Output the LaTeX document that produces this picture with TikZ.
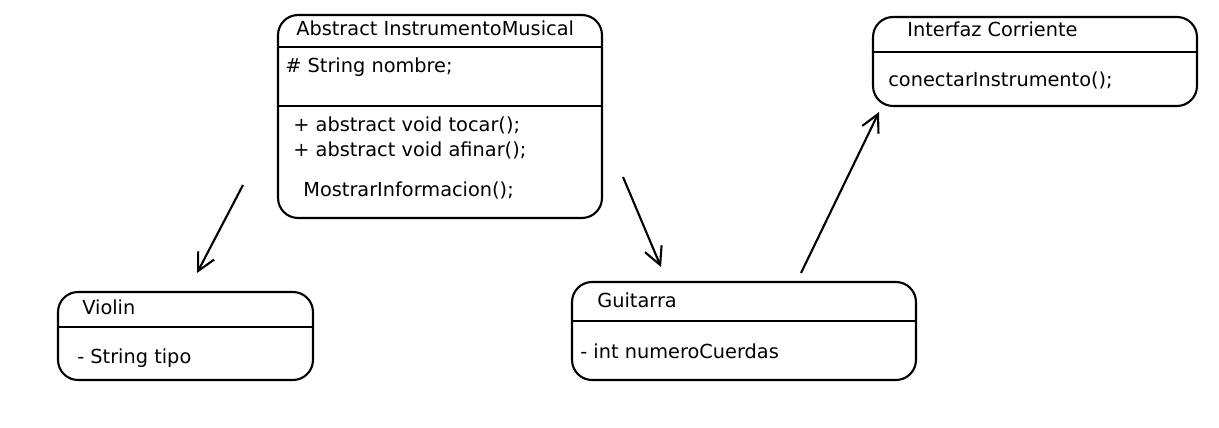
\documentclass[tikz,border=0pt]{standalone}
\usepackage{fontspec}
\setmainfont{DejaVu Sans}
\usetikzlibrary{arrows.meta}

\begin{document}
\begin{tikzpicture}[x=0.02cm,y=-0.02cm,font=\fontsize{11}{13}\selectfont,
  cls/.style={rectangle,rounded corners=0.4cm,draw,line width=1.2pt,inner sep=0pt},
  txt/.style={anchor=base west,inner sep=0pt},
  sep/.style={line width=1.2pt},
  ar/.style={-{Straight Barb[length=3.5mm,width=3.6mm]},line width=1.2pt}]
  \useasboundingbox (0,0) rectangle (1219,428);
  % classes
  \node[cls,minimum width=6.48cm,minimum height=4.06cm] (main) at (440,116.5) {};
  \node[cls,minimum width=6.48cm,minimum height=1.78cm] (iface) at (1035,61.5) {};
  \node[cls,minimum width=5.1cm,minimum height=1.76cm] (violin) at (185.5,336) {};
  \node[cls,minimum width=6.88cm,minimum height=1.96cm] (guitar) at (744,331) {};
  \draw[sep] (main.west |- 0,47) -- (main.east |- 0,47);
  \draw[sep] (main.west |- 0,106) -- (main.east |- 0,106);
  \draw[sep] (iface.west |- 0,52) -- (iface.east |- 0,52);
  \draw[sep] (violin.west |- 0,327) -- (violin.east |- 0,327);
  \draw[sep] (guitar.west |- 0,321) -- (guitar.east |- 0,321);
  % texts
  \node[txt] (mainT) at (296,36) {Abstract InstrumentoMusical};
  \node[txt] (mainA) at (285,73) {\# String nombre;};
  \node[txt] (mainM1) at (293,132) {+ abstract void tocar();};
  \node[txt] (mainM2) at (293,157) {+ abstract void afinar();};
  \node[txt] (mainM3) at (303,197) {MostrarInformacion();};
  \node[txt] (ifaceT) at (907,37) {Interfaz Corriente};
  \node[txt] (ifaceM) at (888,87) {conectarInstrumento();};
  \node[txt] (violinT) at (82,315) {Violin};
  \node[txt] (violinA) at (77,363) {- String tipo};
  \node[txt] (guitarT) at (597,308) {Guitarra};
  \node[txt] (guitarA) at (580,358) {- int numeroCuerdas};
  % arrows
  \coordinate (a1s) at (243,185); \coordinate (a1e) at (197,273);
  \coordinate (a2s) at (623,177); \coordinate (a2e) at (661,267);
  \coordinate (a3s) at (801,273); \coordinate (a3e) at (879,112);
  \draw[ar] (a1s) -- (a1e);
  \draw[ar] (a2s) -- (a2e);
  \draw[ar] (a3s) -- (a3e);
\end{tikzpicture}
\end{document}
